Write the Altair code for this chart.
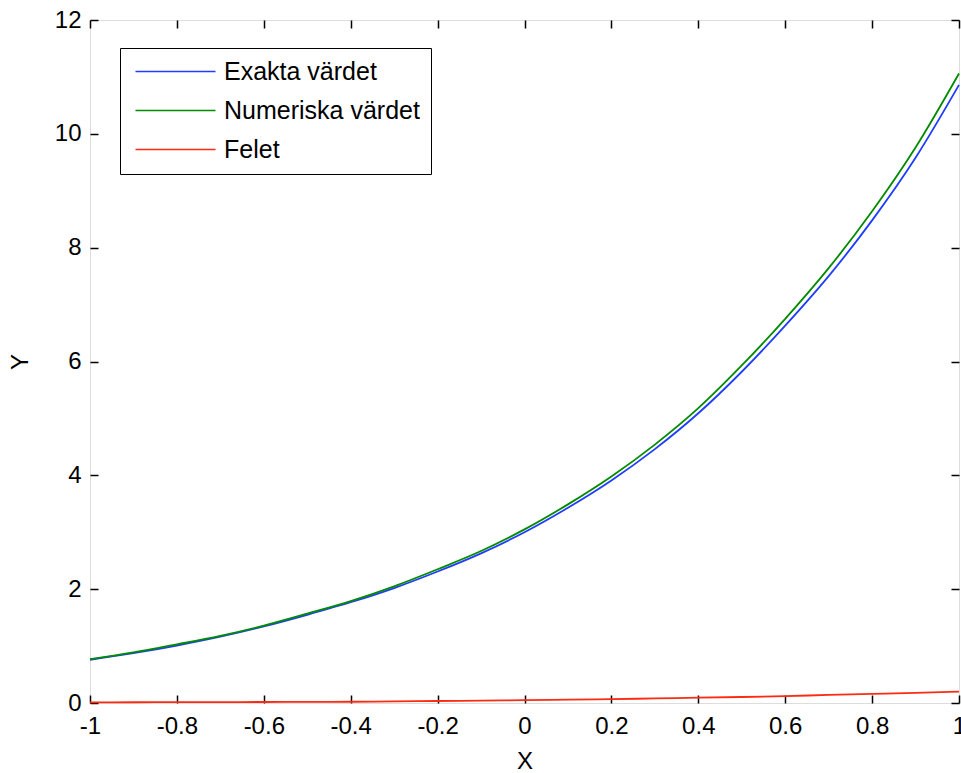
import altair as alt
import pandas as pd

# ---- data ----
x_vals = [-1.0, -0.9, -0.8, -0.7, -0.6, -0.5, -0.4, -0.3, -0.2, -0.1, 0.0,
          0.1, 0.2, 0.3, 0.4, 0.5, 0.6, 0.7, 0.8, 0.9, 1.0]
exakta = [0.76, 0.876, 1.01, 1.165, 1.345, 1.55, 1.77, 2.02, 2.31, 2.63, 3.00,
          3.43, 3.91, 4.46, 5.09, 5.82, 6.63, 7.50, 8.48, 9.58, 10.86]
numeriska = [0.77, 0.89, 1.03, 1.18, 1.36, 1.57, 1.79, 2.05, 2.35, 2.67, 3.05,
             3.49, 3.98, 4.54, 5.18, 5.93, 6.75, 7.64, 8.64, 9.76, 11.06]
felet = [0.012, 0.013, 0.015, 0.016, 0.018, 0.019, 0.022, 0.028, 0.035, 0.043, 0.05,
         0.058, 0.068, 0.08, 0.093, 0.105, 0.12, 0.142, 0.16, 0.177, 0.2]

series_names = ["Exakta värdet", "Numeriska värdet", "Felet"]
series_colors = ["#1f3cff", "#008a00", "#ff2a10"]

x_ticks = [-1, -0.8, -0.6, -0.4, -0.2, 0, 0.2, 0.4, 0.6, 0.8, 1]
y_ticks = [0, 2, 4, 6, 8, 10, 12]

FONT = "Liberation Sans"
FS = 24

df_exakt = pd.DataFrame({"x": x_vals, "y": exakta, "serie": series_names[0]})
df_num = pd.DataFrame({"x": x_vals, "y": numeriska, "serie": series_names[1]})
df_fel = pd.DataFrame({"x": x_vals, "y": felet, "serie": series_names[2]})

xscale = alt.Scale(domain=[-1, 1], nice=False, zero=False)
yscale = alt.Scale(domain=[0, 12], nice=False, zero=False)

color = alt.Color(
    "serie:N",
    scale=alt.Scale(domain=series_names, range=series_colors),
    legend=alt.Legend(
        title=None,
        orient="none",
        legendX=30,
        legendY=28,
        symbolType="M-4,0L4,0",
        symbolSize=400,
        symbolStrokeWidth=1.6,
        symbolOffset=32,
        labelOffset=36,
        labelFont=FONT,
        labelFontSize=25,
        labelColor="black",
        labelLimit=400,
        padding=11,
        rowPadding=13,
        strokeColor="black",
        fillColor="white",
    ),
)

label_expr = "'' + datum.value"

axis_x_main = alt.Axis(values=x_ticks, orient="bottom", tickSize=0, domain=False, grid=False,
                       labelFont=FONT, labelFontSize=FS, labelColor="black", labelPadding=11,
                       labelExpr=label_expr, title="X", titleFont=FONT, titleFontSize=FS,
                       titleFontWeight="normal", titleColor="black", titlePadding=11,
                       labelFlush=False, labelOverlap=False)
axis_y_main = alt.Axis(values=y_ticks, orient="left", tickSize=0, domain=False, grid=False,
                       labelFont=FONT, labelFontSize=FS, labelColor="black", labelPadding=9,
                       labelExpr=label_expr, title="Y", titleFont=FONT, titleFontSize=FS,
                       titleFontWeight="normal", titleColor="black", titlePadding=22,
                       labelFlush=False, labelOverlap=False)

def tick_axis(orient, values):
    return alt.Axis(values=values, orient=orient, tickSize=8, tickWidth=1.5, tickColor="black",
                    offset=-8, domain=False, grid=False, labels=False, title=None)

layer_a = alt.Chart(df_exakt).mark_line(strokeWidth=1.8, interpolate="monotone").encode(
    x=alt.X("x:Q", scale=xscale, axis=axis_x_main),
    y=alt.Y("y:Q", scale=yscale, axis=axis_y_main),
    color=color,
)
layer_b = alt.Chart(df_num).mark_line(strokeWidth=1.8, interpolate="monotone").encode(
    x=alt.X("x:Q", scale=xscale, axis=tick_axis("bottom", x_ticks)),
    y=alt.Y("y:Q", scale=yscale, axis=tick_axis("left", y_ticks)),
    color=color,
)
layer_c = alt.Chart(df_fel).mark_line(strokeWidth=1.8, interpolate="monotone").encode(
    x=alt.X("x:Q", scale=xscale, axis=tick_axis("top", x_ticks)),
    y=alt.Y("y:Q", scale=yscale, axis=tick_axis("right", y_ticks)),
    color=color,
)

chart = alt.layer(layer_a, layer_b, layer_c).resolve_axis(
    x="independent", y="independent"
).properties(
    width=869,
    height=683,
    autosize=alt.AutoSizeParams(type="none"),
    padding={"left": 90, "top": 20, "right": 2, "bottom": 70},
    background="white",
).configure_view(
    stroke="black", strokeWidth=1.6
).configure(font=FONT)

chart.save("out.html", embed_options={"renderer": "svg", "actions": False})
